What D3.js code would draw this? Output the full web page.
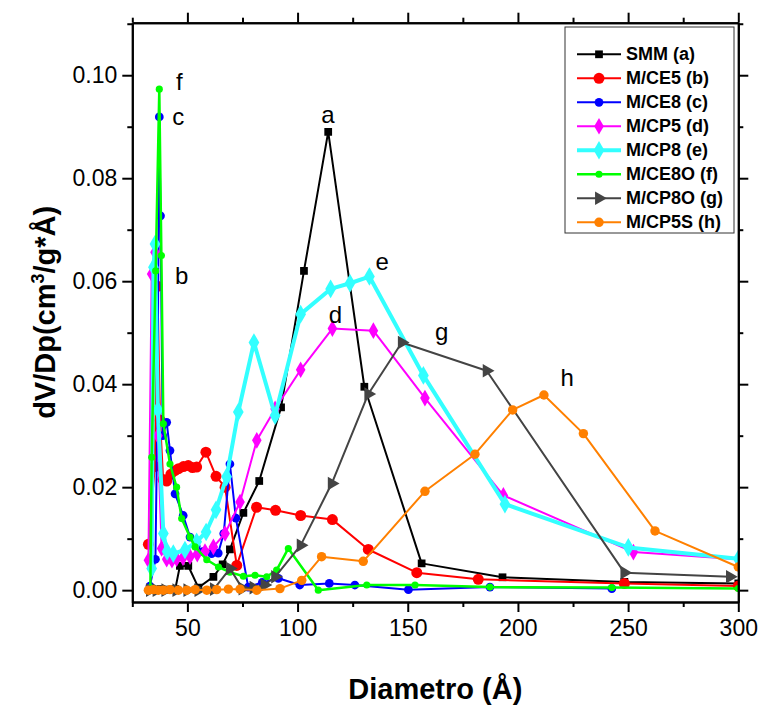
<!DOCTYPE html>
<html>
<head>
<meta charset="utf-8">
<script src="https://cdn.jsdelivr.net/npm/d3@7"></script>
<style>
  body { margin: 0; background: #fff; }
  svg { font-family: Arial, "Liberation Sans", sans-serif; }
</style>
</head>
<body>
<svg id="chart" width="760" height="705"></svg>
<script>
// BJH pore size distribution (x: diameter in A, y: dV/Dp)
const smmX = [33, 35.5, 38, 41, 44.5, 46.6, 50.4, 55, 61.8, 66, 69.3, 75.4, 82.6, 92.5, 102.9, 113.9, 130.3, 156.3, 193, 248.3, 300];
const smmY = [0.0001, 0.0001, 0.0002, 0.0001, 0.0002, 0.0047, 0.0047, 0.0005, 0.0026, 0.005, 0.0079, 0.0150, 0.0212, 0.0355, 0.0620, 0.0890, 0.0395, 0.0052, 0.0025, 0.0016, 0.0013];

const ce5X = [32.3, 35.2, 36.4, 37.6, 39.0, 40.6, 42.5, 44.3, 46, 48.2, 50.4, 52.3, 54.2, 58.4, 63, 67.1, 72.4, 81.4, 90, 101.4, 115.8, 132.1, 154.1, 182, 248.3, 300];
const ce5Y = [0.0089, 0.024, 0.059, 0.033, 0.0215, 0.0212, 0.0225, 0.0232, 0.0236, 0.0240, 0.0242, 0.0238, 0.0239, 0.0268, 0.0221, 0.0200, 0.0048, 0.0161, 0.0155, 0.0145, 0.0137, 0.0079, 0.0034, 0.0021, 0.0013, 0.0008];

const ce8X = [33, 35.5, 36.4, 37.25, 37.8, 38.8, 40.6, 42.1, 44.4, 48.1, 51.2, 54, 57, 61, 64, 66.5, 69.3, 72, 77.6, 84, 91.3, 101, 114.4, 126, 150.3, 187.3, 242.6];
const ce8Y = [0.0008, 0.006, 0.035, 0.0919, 0.0727, 0.030, 0.0326, 0.0271, 0.0187, 0.0145, 0.0103, 0.0085, 0.0075, 0.0071, 0.0072, 0.011, 0.0245, 0.014, 0.0006, 0.0015, 0.0023, 0.0010, 0.0013, 0.0010, 0.0001, 0.0006, 0.0003];

const cp5X = [32.3, 33.8, 35.3, 36.6, 38.3, 40.6, 43, 45.1, 48, 51.2, 54.5, 58, 61.8, 67.1, 73.9, 81.5, 89.8, 101.4, 115.8, 134.4, 157.8, 193.4, 252.4, 300];
const cp5Y = [0.0058, 0.0614, 0.0656, 0.030, 0.0081, 0.0060, 0.0058, 0.0061, 0.0063, 0.0065, 0.0070, 0.0075, 0.0084, 0.0110, 0.0171, 0.0291, 0.0352, 0.0428, 0.0508, 0.0504, 0.0373, 0.0184, 0.0074, 0.0060];

const cp8X = [33.8, 34.6, 35.3, 36.6, 39.1, 40.8, 43.6, 48.9, 54.2, 58.5, 63, 67.8, 73.1, 80.2, 89.8, 101.4, 115, 123.8, 132.6, 157.1, 194.1, 250.1, 300];
const cp8Y = [0.0042, 0.0627, 0.0672, 0.035, 0.0110, 0.0075, 0.0071, 0.0078, 0.0094, 0.0113, 0.0156, 0.0220, 0.0346, 0.0481, 0.0339, 0.0536, 0.0585, 0.0596, 0.0609, 0.0417, 0.0167, 0.0083, 0.0061];

const ce8oX = [33.2, 33.8, 35.6, 37.25, 38.2, 39.1, 42.1, 45.1, 47.4, 51.2, 53.5, 58.8, 64.1, 69.3, 75.4, 80.7, 86, 90.5, 95.8, 109.4, 131.4, 153.3, 187.3, 242.6, 300];
const ce8oY = [0.0005, 0.0258, 0.062, 0.0973, 0.065, 0.0323, 0.0245, 0.0200, 0.0139, 0.0103, 0.0084, 0.0059, 0.0045, 0.0035, 0.0027, 0.0029, 0.0026, 0.0039, 0.0081, 0.0000, 0.0010, 0.0010, 0.0006, 0.0005, 0.0003];

const cp8oX = [33, 36, 40, 45, 50, 55, 62, 69.3, 75, 80, 85, 89.8, 101.4, 115.5, 132.1, 147.3, 185.8, 248.3, 296.2];
const cp8oY = [0, 0, 0, 0, 0, 0, 0.0002, 0.0042, 0.0003, 0.0005, 0.0010, 0.0026, 0.0087, 0.0207, 0.0381, 0.0481, 0.0426, 0.0034, 0.0026];

const cp5sX = [32.3, 34.6, 36.8, 39.1, 42.1, 45.9, 49.7, 53.5, 58.8, 63.3, 68.6, 73.9, 81.5, 92, 101.9, 110.9, 129.8, 157.8, 180.5, 197.6, 211.8, 229.7, 262.2, 300];
const cp5sY = [0, 0.0001, 0, 0, 0.0001, 0, 0, 0.0001, 0, 0.0001, 0.0002, 0.0002, 0, 0.0003, 0.0019, 0.0065, 0.0056, 0.0192, 0.0264, 0.0350, 0.0379, 0.0304, 0.0115, 0.0045];

const seriesNames = ["SMM (a)", "M/CE5 (b)", "M/CE8 (c)", "M/CP5 (d)", "M/CP8 (e)", "M/CE8O (f)", "M/CP8O (g)", "M/CP5S (h)"];
const seriesX = [smmX, ce5X, ce8X, cp5X, cp8X, ce8oX, cp8oX, cp5sX];
const seriesY = [smmY, ce5Y, ce8Y, cp5Y, cp8Y, ce8oY, cp8oY, cp5sY];

// letter tags placed next to the peaks (data coordinates)
const tagText = ["a", "b", "c", "d", "e", "f", "g", "h"];
const tagX = [113.8, 47.4, 45.9, 117.2, 138.4, 46.3, 165.4, 222.3];
const tagY = [0.0908, 0.0594, 0.0903, 0.0519, 0.0622, 0.0972, 0.0486, 0.0397];

const xTicks = [50, 100, 150, 200, 250, 300];
const xMinor = [25, 75, 125, 175, 225, 275];
const yTicks = [0, 0.02, 0.04, 0.06, 0.08, 0.10];
const yMinor = [0.01, 0.03, 0.05, 0.07, 0.09, 0.11];

// look of each series
const colors = ["#000000", "#ff0000", "#0000ff", "#ff00ff", "#33ffff", "#00ff00", "#444444", "#ff8000"];
const shapes = [d3.symbolSquare, d3.symbolCircle, d3.symbolCircle, d3.symbolDiamond, d3.symbolDiamond, d3.symbolCircle, d3.symbolTriangle, d3.symbolCircle];
const sizes = [60, 95, 60, 80, 100, 40, 80, 70];
const widths = [2, 2, 2, 2, 4, 2.5, 2, 2];
const turns = [0, 0, 0, 0, 0, 0, 90, 0];

const svg = d3.select("#chart");

const plotLeft = 132.3, plotRight = 738.3, plotTop = 22.7, plotBottom = 602;

const x = d3.scaleLinear().domain([25, 300]).range([plotLeft, plotRight]);
const y = d3.scaleLinear().domain([-0.0023, 0.1102]).range([plotBottom, plotTop]);

svg.append("defs").append("clipPath").attr("id", "plotArea")
  .append("rect")
  .attr("x", plotLeft).attr("y", plotTop)
  .attr("width", plotRight - plotLeft).attr("height", plotBottom - plotTop);

const plot = svg.append("g").attr("clip-path", "url(#plotArea)");

const line = d3.line()
  .x(d => x(d[0]))
  .y(d => y(d[1]));

seriesNames.forEach((name, i) => {
  const pts = seriesX[i].map((v, j) => [v, seriesY[i][j]]);
  plot.append("path")
    .datum(pts)
    .attr("fill", "none")
    .attr("stroke", colors[i])
    .attr("stroke-width", widths[i])
    .attr("stroke-linejoin", "round")
    .attr("d", line);
  plot.selectAll(".m" + i)
    .data(pts)
    .enter()
    .append("path")
    .attr("class", "m" + i)
    .attr("transform", d => `translate(${x(d[0])},${y(d[1])}) rotate(${turns[i]})`)
    .attr("d", d3.symbol().type(shapes[i]).size(sizes[i]))
    .attr("fill", colors[i]);
});

// axes, ticks pointing outward on all four sides
function styleAxis(g) {
  g.select(".domain").attr("stroke-width", 2).attr("stroke", "#000");
  g.selectAll(".tick line").attr("stroke-width", 2).attr("stroke", "#000");
  g.selectAll("text").style("font-size", "23px").attr("fill", "#000");
}

svg.append("g")
  .attr("transform", `translate(0,${plotBottom})`)
  .call(d3.axisBottom(x).tickValues(xTicks).tickSize(10).tickPadding(8).tickSizeOuter(0))
  .call(styleAxis);
svg.append("g")
  .attr("transform", `translate(0,${plotBottom})`)
  .call(d3.axisBottom(x).tickValues(xMinor).tickSize(5).tickFormat("").tickSizeOuter(0))
  .call(styleAxis);
svg.append("g")
  .attr("transform", `translate(0,${plotTop})`)
  .call(d3.axisTop(x).tickValues(xTicks).tickSize(10).tickFormat("").tickSizeOuter(0))
  .call(styleAxis);
svg.append("g")
  .attr("transform", `translate(0,${plotTop})`)
  .call(d3.axisTop(x).tickValues(xMinor).tickSize(5).tickFormat("").tickSizeOuter(0))
  .call(styleAxis);

svg.append("g")
  .attr("transform", `translate(${plotLeft},0)`)
  .call(d3.axisLeft(y).tickValues(yTicks).tickSize(10).tickPadding(5).tickFormat(d3.format(".2f")).tickSizeOuter(0))
  .call(styleAxis);
svg.append("g")
  .attr("transform", `translate(${plotLeft},0)`)
  .call(d3.axisLeft(y).tickValues(yMinor).tickSize(5).tickFormat("").tickSizeOuter(0))
  .call(styleAxis);
svg.append("g")
  .attr("transform", `translate(${plotRight},0)`)
  .call(d3.axisRight(y).tickValues(yTicks).tickSize(10).tickFormat("").tickSizeOuter(0))
  .call(styleAxis);
svg.append("g")
  .attr("transform", `translate(${plotRight},0)`)
  .call(d3.axisRight(y).tickValues(yMinor).tickSize(5).tickFormat("").tickSizeOuter(0))
  .call(styleAxis);

// peak tags
svg.selectAll(".tag")
  .data(tagText)
  .enter()
  .append("text")
  .attr("class", "tag")
  .attr("x", (d, i) => x(tagX[i]))
  .attr("y", (d, i) => y(tagY[i]))
  .attr("text-anchor", "middle")
  .style("font-size", "24px")
  .text(d => d);

// axis titles
svg.append("text")
  .attr("x", (plotLeft + plotRight) / 2)
  .attr("y", 699)
  .attr("text-anchor", "middle")
  .style("font-size", "29px")
  .style("font-weight", "bold")
  .text("Diametro (Å)");

const yTitle = svg.append("text")
  .attr("transform", `translate(55,${(plotTop + plotBottom) / 2}) rotate(-90)`)
  .attr("text-anchor", "middle")
  .style("font-size", "29px")
  .style("font-weight", "bold");
yTitle.append("tspan").text("dV/Dp(cm");
yTitle.append("tspan").attr("dy", -11).style("font-size", "18px").text("3");
yTitle.append("tspan").attr("dy", 11).text("/g*Å)");

// legend
const legend = svg.append("g");
legend.append("rect")
  .attr("x", 565).attr("y", 27)
  .attr("width", 169).attr("height", 206)
  .attr("fill", "#fff")
  .attr("stroke", "#333")
  .attr("stroke-width", 1);

seriesNames.forEach((name, i) => {
  const ly = 54.3 + 24 * i;
  legend.append("line")
    .attr("x1", 577).attr("x2", 621)
    .attr("y1", ly).attr("y2", ly)
    .attr("stroke", colors[i])
    .attr("stroke-width", widths[i]);
  legend.append("path")
    .attr("transform", `translate(599,${ly}) rotate(${turns[i]})`)
    .attr("d", d3.symbol().type(shapes[i]).size(sizes[i]))
    .attr("fill", colors[i]);
  legend.append("text")
    .attr("x", 626).attr("y", ly + 6)
    .style("font-size", "18px")
    .style("font-weight", "bold")
    .text(name);
});
</script>
</body>
</html>
